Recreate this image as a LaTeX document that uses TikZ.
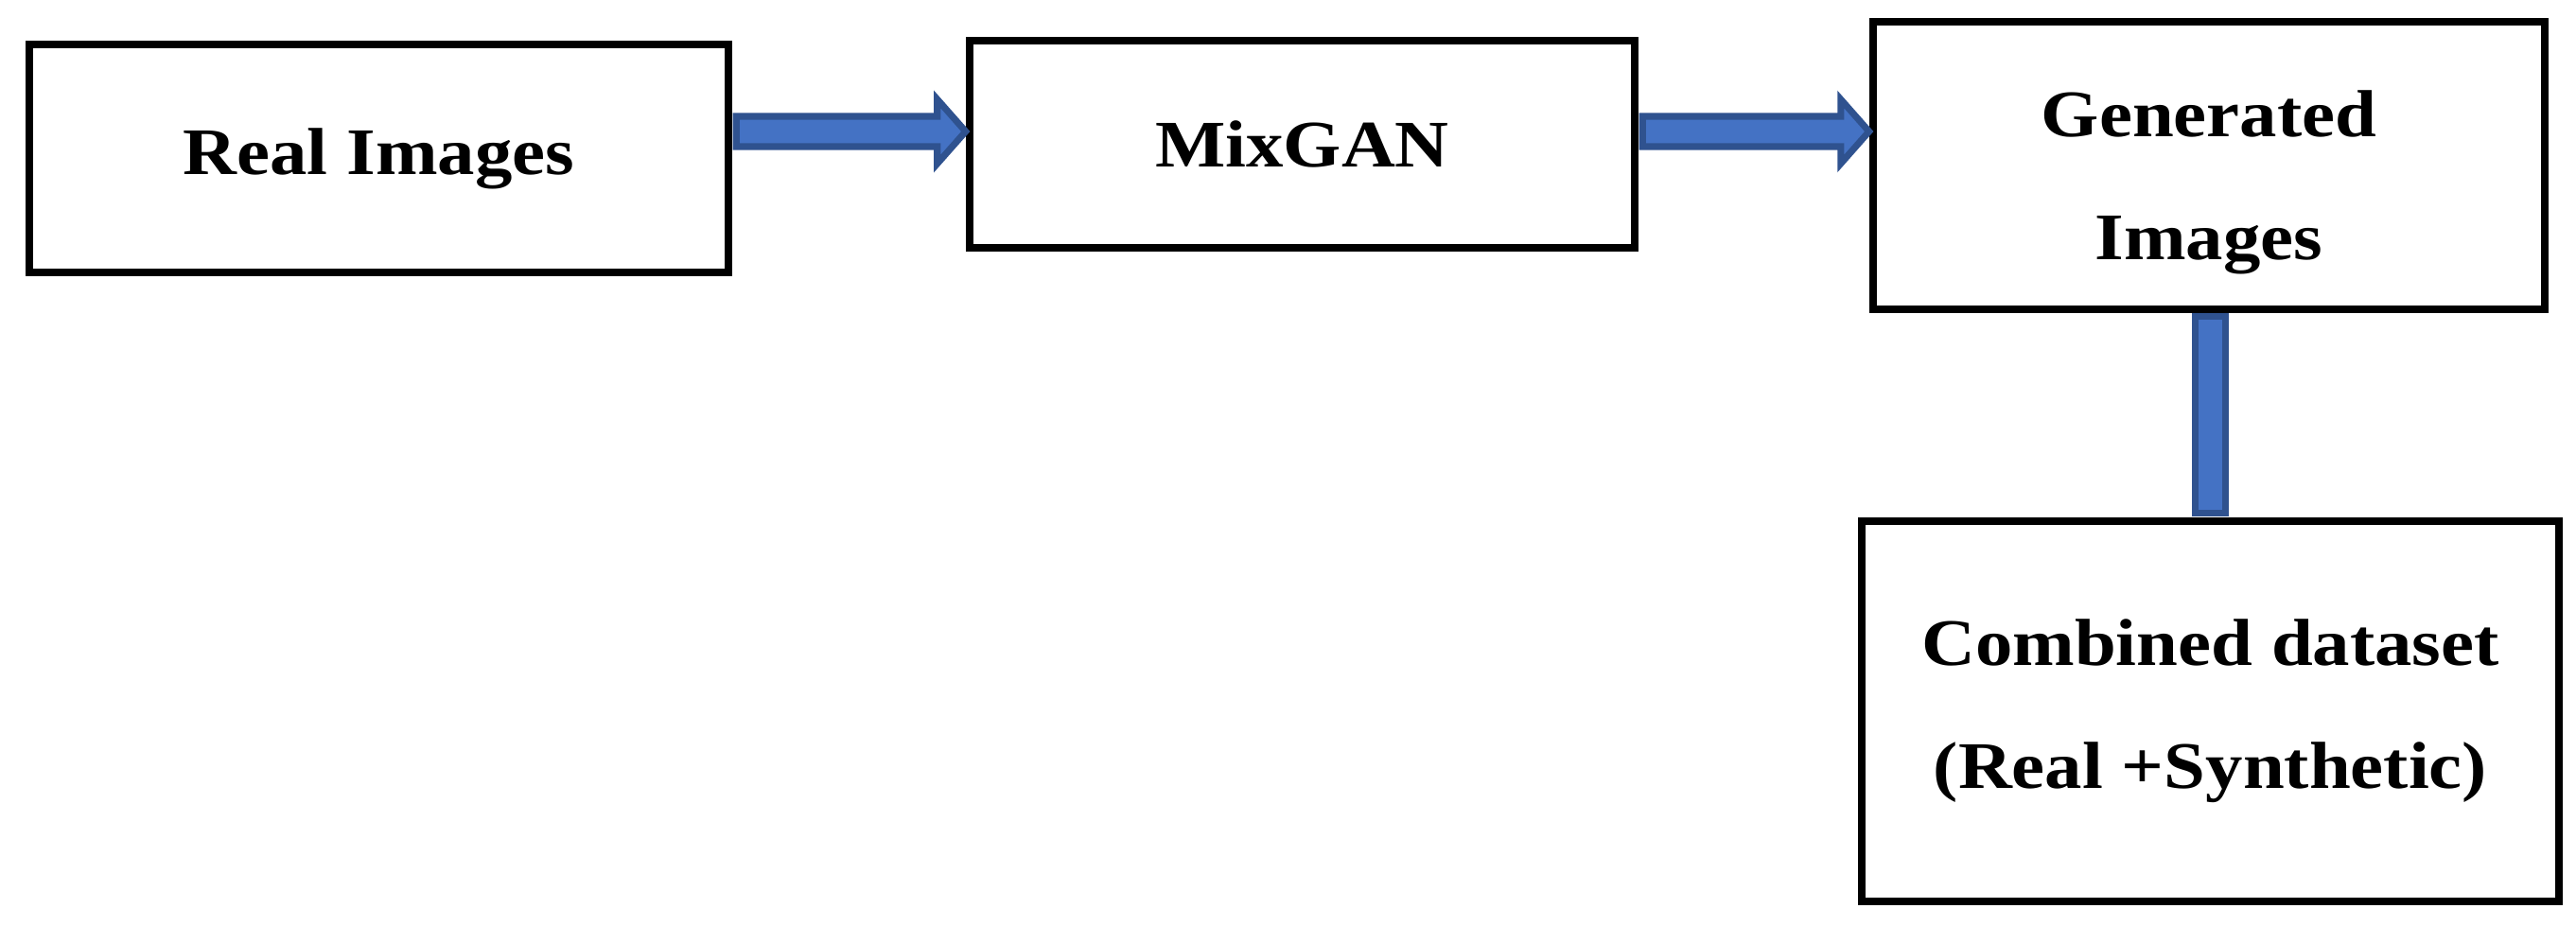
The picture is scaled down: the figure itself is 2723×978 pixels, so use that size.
\documentclass[tikz,border=0pt]{standalone}
\usepackage{fontspec}
\setmainfont{Liberation Serif}[FakeStretch=1.12]
\begin{document}
\begin{tikzpicture}[x=0.01cm,y=-0.01cm,
  box/.style={draw=black,line width=2.3pt,inner sep=0pt,font=\fontsize{20}{37}\selectfont\bfseries,align=center},
  blk/.style={draw={rgb,255:red,47;green,82;blue,143},fill={rgb,255:red,68;green,114;blue,196},line width=2pt,line join=miter}]
\useasboundingbox (0,0) rectangle (2723,978);
\node[box,minimum width=7.39cm,minimum height=2.41cm] (a) at (400.5,167.5) {Real Images};
\node[box,minimum width=7.03cm,minimum height=2.19cm] (b) at (1376.5,152.5) {MixGAN};
\node[box,minimum width=7.10cm,minimum height=3.03cm] (c) at (2335,175) {\rule{0pt}{0.85cm}Generated\\Images};
\node[box,minimum width=7.37cm,minimum height=4.02cm] (d) at (2336.5,752) {Combined dataset\\(Real +Synthetic)};
\coordinate (a1) at (a.east |- 0,139);
\coordinate (b1) at (b.west |- 0,139);
\coordinate (b2) at (b.east |- 0,139);
\coordinate (c1) at (c.west |- 0,139);
\draw[blk] ([shift={(4,-16)}]a1) -- ([shift={(-30,-16)}]b1) -- ([shift={(-30,-34)}]b1) -- (b1) -- ([shift={(-30,34)}]b1) -- ([shift={(-30,16)}]b1) -- ([shift={(4,16)}]a1) -- cycle;
\draw[blk] ([shift={(4,-16)}]b2) -- ([shift={(-30,-16)}]c1) -- ([shift={(-30,-34)}]c1) -- (c1) -- ([shift={(-30,34)}]c1) -- ([shift={(-30,16)}]c1) -- ([shift={(4,16)}]b2) -- cycle;
\coordinate (c2) at (2336,0 |- c.south);
\coordinate (d2) at (2336,0 |- d.north);
\draw[blk] ([shift={(-16,4)}]c2) rectangle ([shift={(16,-4)}]d2);
\end{tikzpicture}
\end{document}
